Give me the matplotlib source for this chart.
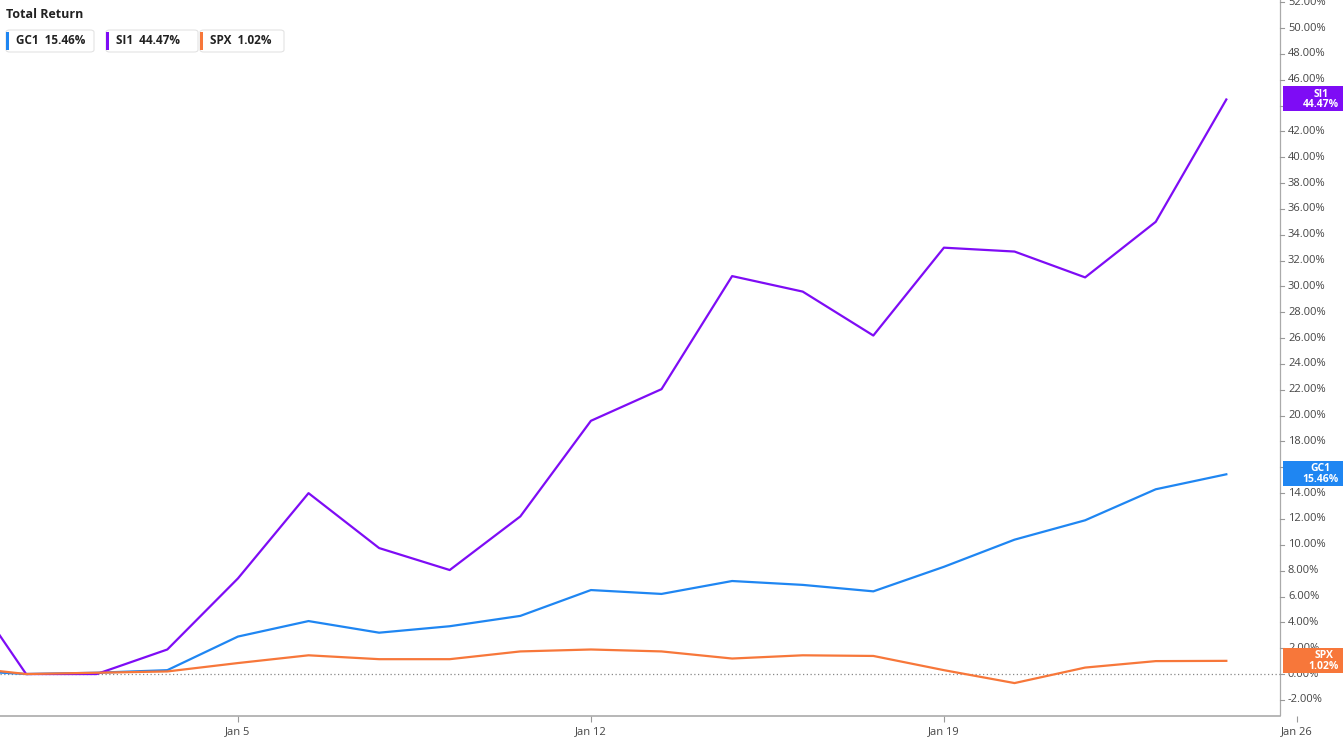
import matplotlib
matplotlib.use("Agg")
import matplotlib.pyplot as plt
from matplotlib.patches import FancyBboxPatch, Rectangle

plt.rcParams['font.family'] = ['Open Sans', 'DejaVu Sans']

idx = list(range(-4, 15))
tick_pos = [0, 5, 10, 15]
tick_labels = ["Jan 5", "Jan 12", "Jan 19", "Jan 26"]
names = ["GC1", "SI1", "SPX"]
gc1 = [0.3, 0.0, 0.1, 0.3, 2.9, 4.1, 3.2, 3.7, 4.5, 6.5, 6.2, 7.2, 6.9, 6.4, 8.3, 10.4, 11.9, 14.3, 15.46]
si1 = [8.0, 0.0, 0.0, 1.9, 7.4, 14.0, 9.75, 8.05, 12.2, 19.6, 22.05, 30.8, 29.6, 26.2, 33.0, 32.7, 30.7, 35.0, 44.47]
spx = [0.6, 0.0, 0.1, 0.2, 0.85, 1.45, 1.15, 1.15, 1.75, 1.9, 1.75, 1.2, 1.45, 1.4, 0.3, -0.7, 0.5, 1.0, 1.02]
colors = ["#1f86f2", "#7e0cf5", "#f7773a"]
series = [gc1, si1, spx]

W, H = 1343, 744
fig = plt.figure(figsize=(13.43, 7.44), dpi=100)
ax = fig.add_axes([0, 0.0376, 1, 0.9624])
x0 = -3.37
pxu = 70.6
ax.set_xlim(x0, x0 + W/pxu)
ax.set_ylim(-3.25, 52.17)
xr = x0 + 1280/pxu  # right axis line position
for s, c in zip(series, colors):
    ax.plot(idx, s, color=c, lw=1.6, zorder=3)
ax.plot([x0, xr], [0, 0], color="#888888", lw=0.9, ls=(0, (1, 2)), zorder=1)
ax.axvline(xr, color="#aaaaaa", lw=0.9)
ax.plot([x0, xr], [-3.25, -3.25], color="#aaaaaa", lw=1.2, clip_on=False)

ax.set_yticks([])
ax.set_xticks(tick_pos)
ax.set_xticklabels(tick_labels, fontsize=8, color="#444444")
ax.tick_params(axis='x', length=4, color="#999999")
for sp in ["top", "left", "right", "bottom"]:
    ax.spines[sp].set_visible(False)

for v in range(-2, 53, 2):
    ax.plot([xr, xr + 4/pxu], [v, v], color="#999999", lw=0.8)
    ax.text(xr + 8/pxu, v, f"{v:.2f}%", fontsize=8, color="#444444", va="center", ha="left", clip_on=True)

# right-side value tags
for n, s, c in zip(names, series, colors):
    y = s[-1]
    ax.add_patch(Rectangle((xr + 3/pxu, y - 12/12.92), 62/pxu, 25/12.92, fc=c, ec="none", zorder=5, clip_on=False))
    ax.text(xr + 59/pxu, y, f"{n}\n{y:.2f}%", ha="right", va="center", fontsize=7.5, multialignment="center",
            fontweight="bold", color="white", linespacing=0.95, zorder=6)

fig.text(6/W, 1-14/H, "Total Return", fontsize=9, fontweight="bold", va="center", color="#222222")
lx = [6, 106, 200]
for n, s, c, x in zip(names, series, colors, lx):
    txt = f"{n}  {s[-1]:.2f}%"
    w = 92 if n == "SI1" else 88 if n == "GC1" else 84
    fig.patches.append(FancyBboxPatch((x/W, 1-52/H), w/W, 22/H, boxstyle="round,pad=0,rounding_size=0.003",
                                      transform=fig.transFigure, fc="white", ec="#e3e3e3", lw=0.8))
    fig.patches.append(Rectangle((x/W, 1-50/H), 3/W, 18/H, transform=fig.transFigure, fc=c, ec="none"))
    fig.text((x+10)/W, 1-41/H, txt, fontsize=8.5, fontweight="bold", va="center", color="#222222")

fig.savefig("out.png", dpi=100)
